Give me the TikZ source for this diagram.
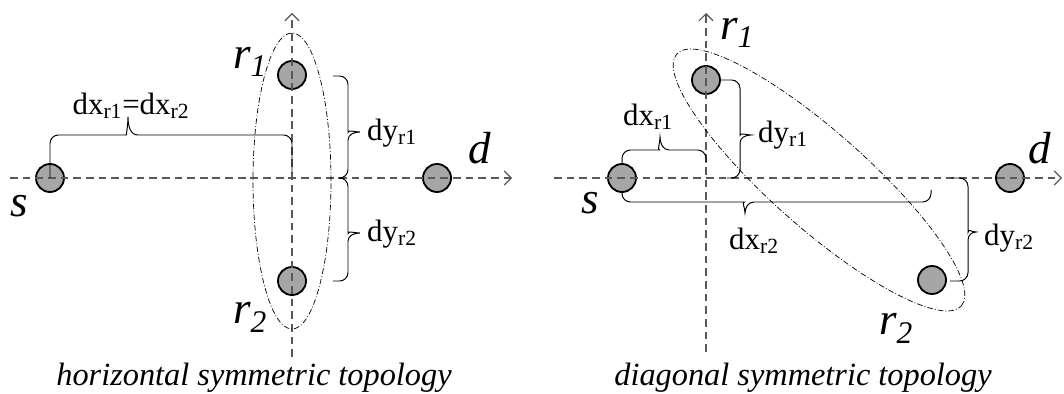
\documentclass[tikz,border=0pt]{standalone}
\usepackage{fontspec}
\setmainfont{Liberation Serif}[ItalicFont={Liberation Serif Italic}]
\usetikzlibrary{arrows.meta}

\begin{document}
\begin{tikzpicture}[x=0.025cm,y=0.025cm,
  relay/.style={circle,draw,line width=1.3pt,fill=gray!70,minimum size=0.7cm,inner sep=0pt},
  axis/.style={draw=black!65,line width=0.8pt,dash pattern=on 5.5pt off 3.5pt},
  region/.style={line width=0.5pt,dash pattern=on 4pt off 1.5pt on 0.6pt off 1.5pt},
  brace/.style={line width=0.7pt},
  bigtag/.style={font=\fontsize{32}{32}\selectfont\itshape,inner sep=0pt},
  disttag/.style={font=\fontsize{22}{22}\selectfont,inner sep=0pt},
  captag/.style={font=\fontsize{23}{23}\selectfont\itshape,inner sep=0pt},
  >={Straight Barb[length=5pt,width=10pt]}]
\useasboundingbox (0,0) rectangle (1064,394);

% horizontal symmetric topology
\node[relay] (hs) at (50,216) {};
\node[relay] (hr1) at (292,319) {};
\node[relay] (hr2) at (292,113) {};
\node[relay] (hd) at (437,216) {};
\draw[axis,->] (10,216) -- (512,216);
\draw[axis,->] (292,37) -- (292,381);
\draw[region] (292,213) ellipse [x radius=39,y radius=148];

\draw[brace] (hs.center) [rounded corners=6pt] |- (118,259) [sharp corners] to[out=0,in=-90] (128,277) to[out=-90,in=180] (138,259) [rounded corners=6pt] -| (292,221);
\draw[brace] (333,318) [rounded corners=6pt] -| (348,270) [sharp corners] to[out=-90,in=180] (360,262) to[out=180,in=90] (348,254) [rounded corners=6pt] |- (338,216);
\draw[brace] (338,216) [rounded corners=6pt] -| (348,169) [sharp corners] to[out=-90,in=180] (360,161) to[out=180,in=90] (348,153) [rounded corners=6pt] |- (333,113);

\node[bigtag] (hsl) at (19,188) {s};
\node[bigtag] (hr1l) at (250,332) {r\textsubscript{1}};
\node[bigtag] (hr2l) at (250,77) {r\textsubscript{2}};
\node[bigtag] (hdl) at (480,246) {d};
\node[disttag] (hdx) at (131,288) {dx\textsubscript{r1}=dx\textsubscript{r2}};
\node[disttag] (hdy1) at (392,261) {dy\textsubscript{r1}};
\node[disttag] (hdy2) at (392,160) {dy\textsubscript{r2}};
\node[captag] (hcap) at (254,16) {horizontal symmetric topology};

% diagonal symmetric topology
\node[relay] (ds) at (622,216) {};
\node[relay] (dr1) at (706,314) {};
\node[relay] (dr2) at (932,114) {};
\node[relay] (dd) at (1010,216) {};
\draw[axis,->] (554,216) -- (1062,216);
\draw[axis,->] (706,42) -- (706,381);
\draw[region,rotate around={-41.5:(819,214)}] (819,214) ellipse [x radius=190,y radius=48];

\draw[brace] (ds.north) [rounded corners=6pt] |- (651,244) [sharp corners] to[out=0,in=-90] (660,257) to[out=-90,in=180] (669,244) [rounded corners=6pt] -| (706,231);
\draw[brace] (dr1.east) [rounded corners=6pt] -| (740,267) [sharp corners] to[out=-90,in=180] (751,259) to[out=180,in=90] (740,251) [rounded corners=6pt] |- (727,216);
\draw[brace] (ds.south) [rounded corners=6pt] |- (736,192) [sharp corners] to[out=0,in=90] (745,181) to[out=90,in=180] (754,192) [rounded corners=6pt] -| (931,204);
\draw[brace] (951,216) [rounded corners=6pt] -| (968,170) [sharp corners] to[out=-90,in=180] (976,162) to[out=180,in=90] (968,154) [rounded corners=6pt] |- (950,113);

\node[bigtag] (dsl) at (590,191) {s};
\node[bigtag] (dr1l) at (737,361) {r\textsubscript{1}};
\node[bigtag] (dr2l) at (896,66) {r\textsubscript{2}};
\node[bigtag] (ddl) at (1040,246) {d};
\node[disttag] (ddx1) at (648,277) {dx\textsubscript{r1}};
\node[disttag] (ddy1) at (783,259) {dy\textsubscript{r1}};
\node[disttag] (ddx2) at (754,153) {dx\textsubscript{r2}};
\node[disttag] (ddy2) at (1009,156) {dy\textsubscript{r2}};
\node[captag] (dcap) at (803,16) {diagonal symmetric topology};
\end{tikzpicture}
\end{document}
